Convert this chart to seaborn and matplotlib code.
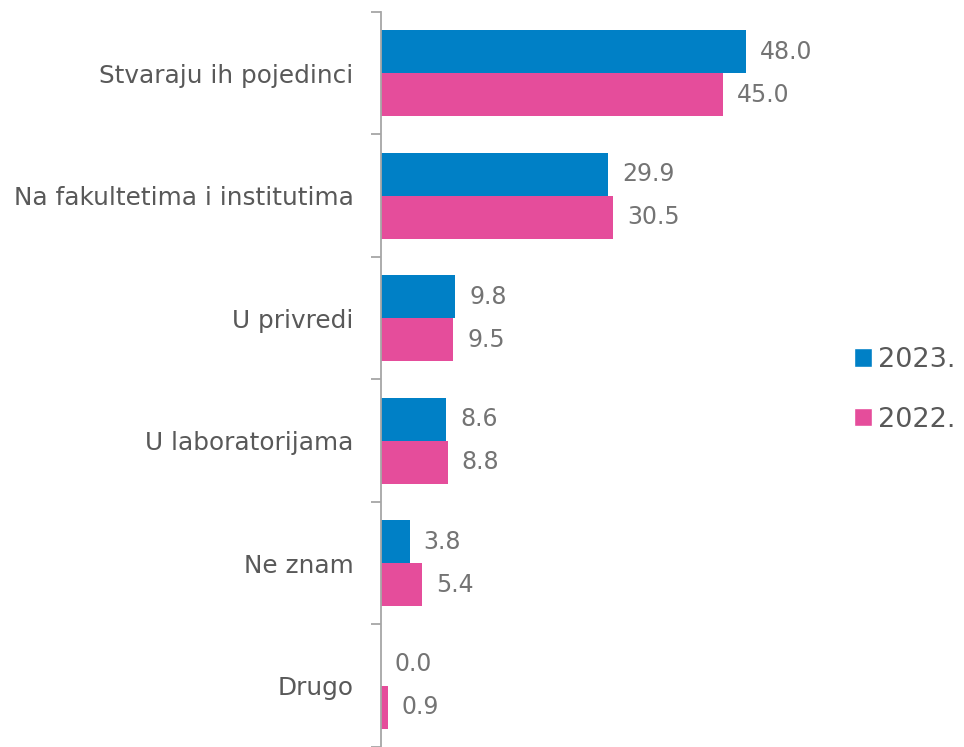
import pandas as pd
import matplotlib.pyplot as plt
import seaborn as sns
from matplotlib.patches import Patch

categories = ["Stvaraju ih pojedinci", "Na fakultetima i institutima", "U privredi",
              "U laboratorijama", "Ne znam", "Drugo"]
years = ["2023.", "2022."]
values_2023 = [48.0, 29.9, 9.8, 8.6, 3.8, 0.0]
values_2022 = [45.0, 30.5, 9.5, 8.8, 5.4, 0.9]

colors = {"2023.": "#0080c6", "2022.": "#e54d9b"}

df = pd.DataFrame({
    "category": categories * 2,
    "year": [years[0]] * len(categories) + [years[1]] * len(categories),
    "value": values_2023 + values_2022,
})

sns.set_style("white")
plt.rcParams["font.family"] = ["DejaVu Sans"]

fig = plt.figure(figsize=(9.64, 7.47), dpi=100)
ax = fig.add_axes([0.395, 0.0, 0.395, 0.984])

sns.barplot(data=df, x="value", y="category", hue="year", order=categories,
            hue_order=years, palette=colors, width=0.7, orient="h",
            saturation=1, linewidth=0, ax=ax, legend=False)

# value labels next to bars
for cont in ax.containers:
    ax.bar_label(cont, fmt="%.1f", padding=10, fontsize=17, color="#747474")

ax.set_xlim(0, 50)
ax.set_ylim(5.5, -0.5)
ax.set_xlabel("")
ax.set_ylabel("")
ax.set_xticks([])
for s in ["top", "right", "bottom"]:
    ax.spines[s].set_visible(False)
ax.spines["left"].set_color("#a6a6a6")
ax.spines["left"].set_linewidth(1.3)

ax.set_yticks(range(len(categories)))
ax.set_yticklabels(categories, fontsize=17.8, color="#595959")
ax.tick_params(axis="y", which="major", left=False, pad=16)
# tick marks between the categories
ax.set_yticks([i - 0.5 for i in range(len(categories) + 1)], minor=True)
ax.tick_params(axis="y", which="minor", left=True, length=7, width=1.3, color="#a6a6a6")

handles = [Patch(facecolor=colors[y], label=y) for y in years]
fig.legend(handles=handles, loc="center left", bbox_to_anchor=(0.886, 0.478),
           frameon=False, fontsize=19.5, handlelength=0.65, handleheight=0.65,
           handletextpad=0.25, labelspacing=1.25, labelcolor="#595959",
           borderpad=0, borderaxespad=0)

fig.savefig("out.png", dpi=100)
